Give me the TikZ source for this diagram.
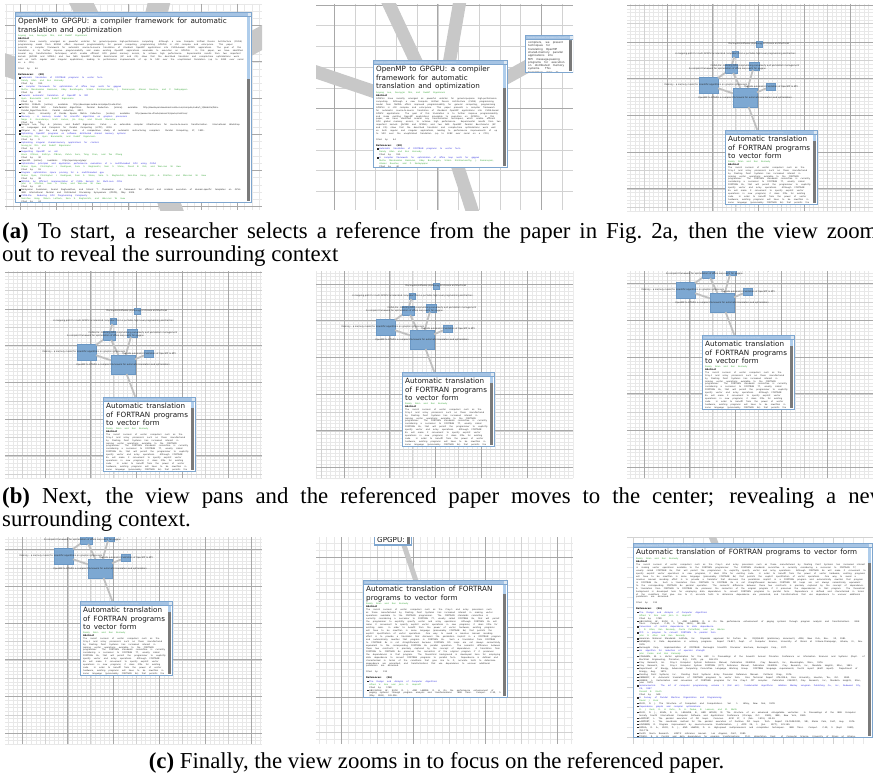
\documentclass[tikz,border=0pt]{standalone}
\usepackage{fontspec}
\setmainfont{Liberation Serif}
\newfontfamily\cardfont{DejaVu Sans}
\setlength{\parindent}{0pt}

\definecolor{nodeblue}{HTML}{7DA8D2}
\definecolor{nodeline}{HTML}{6A97C4}
\definecolor{cardframe}{HTML}{7EA6CF}
\definecolor{titlebar}{HTML}{A6C4E4}
\definecolor{bandgray}{HTML}{C8C8C8}
\definecolor{edgegray}{HTML}{C0C0C0}
\definecolor{gminorc}{HTML}{E8E8E8}
\definecolor{gmidc}{HTML}{D2D2D2}
\definecolor{gmajorc}{HTML}{A8A8A8}
\definecolor{authgreen}{HTML}{3AA83A}
\definecolor{linkblue}{HTML}{3030E0}
\definecolor{bodygray}{HTML}{2E2E2E}
\definecolor{titlecol}{HTML}{1A1A1A}
\definecolor{scrolldark}{HTML}{7A7A7A}
\definecolor{scrolllight}{HTML}{AFCDEB}

\tikzset{
  gminor/.style={draw=gminorc, line width=0.35pt},
  gmid/.style={draw=gmidc, line width=0.45pt},
  gmajor/.style={draw=gmajorc, line width=0.65pt},
  gnode/.style={draw=nodeline, fill=nodeblue, line width=0.4pt, inner sep=0pt, outer sep=0pt},
  glabel/.style={font={\cardfont\fontsize{2.2}{2.5}\selectfont}, text=black!85, inner sep=0pt},
  gedge/.style={draw=edgegray, line width=1.8pt},
  band/.style={draw=bandgray},
  capt/.style={inner sep=0pt, font={\fontsize{22.8}{23.3}\selectfont}},
}

% ---------- text styles inside cards ----------
\newcommand\ttl{\fontsize{7.2}{8.4}\selectfont\color{titlecol}\raggedright\hyphenpenalty=10000 }
\newcommand\au{\fontsize{2.1}{2.95}\selectfont\color{authgreen}}
\newcommand\hd{\fontsize{2.3}{3.1}\selectfont\bfseries\color{black}}
\newcommand\bd{\fontsize{2.1}{2.95}\selectfont\color{bodygray}}
\newcommand\bul{\rule[0.2pt]{1.3pt}{1.3pt}\hspace{0.9pt}}
\newcommand\rl[3]{\par\noindent\llap{\color{black!85}\bul}{\color{linkblue}#1}\par{\color{authgreen}#2}\par{\color{black!85}#3}\par}
\newcommand\rln[2]{\par\noindent\llap{\color{black!85}\bul}{\color{linkblue}#1}\par{\color{authgreen}#2}\par}
\newcommand\rp[1]{\par\noindent\llap{\color{black!85}\bul}{\color{black!85}#1}\par}

\newcommand\absOMP{GPGPUs have recently emerged as powerful vehicles for general-purpose high-performance computing. Although a new Compute Unified Device Architecture (CUDA) programming model from NVIDIA offers improved programmability for general computing, programming GPGPUs is still complex and error-prone. This paper presents a compiler framework for automatic source-to-source translation of standard OpenMP applications into CUDA-based GPGPU applications. The goal of this translation is to further improve programmability and make existing OpenMP applications amenable to execution on GPGPUs. In this paper, we have identified several key transformation techniques, which enable efficient GPU global memory access, to achieve high performance. Experimental results from two important kernels (JACOBI and SPMUL) and two NAS OpenMP Parallel Benchmarks (EP and CG) show that the described translator and compile-time optimizations work well on both regular and irregular applications, leading to performance improvements of up to 50X over the unoptimized translation (up to 328X over serial on a CPU).}

\newcommand\absFOR{The recent success of vector computers such as the Cray-1 and array processors such as those manufactured by Floating Point Systems has increased interest in making vector operations available to the FORTRAN programmer. The FORTRAN standards committee is currently considering a successor to FORTRAN 77, usually called FORTRAN 8x, that will permit the programmer to explicitly specify vector and array operations. Although FORTRAN 8x will make it convenient to specify explicit vector operations in new programs, it does little for existing code. In order to benefit from the power of vector hardware, existing programs will have to be rewritten in some language (presumably FORTRAN 8x) that permits the explicit specification of vector operations. One way to avoid a massive manual recoding effort is to provide a translator that discovers the parallelism implicit in a FORTRAN program and automatically rewrites that program in FORTRAN 8x. Such a translation from FORTRAN to FORTRAN 8x is not straightforward because FORTRAN DO loops are not always semantically equivalent to the corresponding FORTRAN 8x parallel operation. The semantic difference between these two constructs is precisely captured by the concept of dependence. A translation from FORTRAN to FORTRAN 8x preserves the semantics of the original program if it preserves the dependences in that program. The theoretical background is developed here for employing data dependence to convert FORTRAN programs to parallel form. Dependence is defined and characterized in terms of the conditions that give rise to it; accurate tests to determine dependence are presented; and transformations that use dependence to uncover additional parallelism are discussed.}

\newcommand\absMPI{compilers, we present techniques for translating OpenMP shared-memory parallel applications into MPI message-passing programs for execution on distributed memory systems. This translation aims to extend the ease of creating OpenMP programs to distributed memory systems, which are among the most cost-effective parallel platforms. In comparison to previous approaches, the direct translation to MPI performs better.}

\newcommand\refsOMP{%
\rl{Automatic translation of FORTRAN programs to vector form}{Randy Allen and Ken Kennedy}{Cited by: 195}
\rl{A compiler framework for optimization of affine loop nests for gpgpus}{Muthu Manikandan Baskaran, Uday Bondhugula, Sriram Krishnamoorthy, J. Ramanujam, Atanas Rountev, and P. Sadayappan}{Cited by: 40}
\rl{Towards automatic translation of OpenMP to MPI}{Ayon Basumallik and Rudolf Eigenmann}{Cited by: 16}
\rp{NVIDIA CUBLAS. [online]. available: http://developer.nvidia.com/object/cuda.html.}
\rp{NVIDIA CUDA SDK - Data-Parallel Algorithms: Parallel Reduction. [online]. available: http://developer.download.nvidia.com/compute/cuda/1\_1/Website/Data-Parallel\_Algorithms.html. Parallel reduction, 2007.}
\rp{Tim Davis. University of Florida Sparse Matrix Collection. [online]. available: http://www.cise.ufl.edu/research/sparse/matrices/.}
\rl{Memory - A memory model for scientific algorithms on graphics processors}{Naga K. Govindaraju, Scott Larsen, Jim Gray, and Dinesh Manocha}{Cited by: 54}
\rp{Sang-Ik Lee, Troy A. Johnson, and Rudolf Eigenmann. Cetus - an extensible compiler infrastructure for source-to-source transformation. International Workshop on Languages and Compilers for Parallel Computing (LCPC), 2003.}
\rp{Zhiyuan Li, Jian Gu, and Gyungho Lee. A comparative study of automatic restructuring compilers. Parallel Computing, 17, 1991.}
\rl{Optimizing OpenMP programs on software distributed shared memory systems}{Seung-Jai Min, Ayon Basumallik, and Rudolf Eigenmann}{Cited by: 9}
\rl{Optimizing irregular shared-memory applications for clusters}{Seung-Jai Min and Rudolf Eigenmann}{Cited by: 2}
\rl{Supporting OpenMP on cell}{Kevin O'Brien, Kathryn O'Brien, Zehra Sura, Tong Chen, and Tao Zhang}{Cited by: 30}
\rp{OpenMP. [online]. available: http://openmp.org/wp/.}
\rl{Optimization principles and application performance evaluation of a multithreaded GPU using CUDA}{Shane Ryoo, Christopher I. Rodrigues, Sara S. Baghsorkhi, Sam S. Stone, David B. Kirk, and Wen-mei W. Hwu}{Cited by: 91}
\rl{Program optimization space pruning for a multithreaded gpu}{Shane Ryoo, Christopher I. Rodrigues, Sam S. Stone, Sara S. Baghsorkhi, Sain-Zee Ueng, John A. Stratton, and Wen-mei W. Hwu}{Cited by: 38}
\rl{MCUDA: An Efficient Implementation of CUDA Kernels for Multi-core CPUs}{John A. Stratton, Sam S. Stone, and Wen-mei W. Hwu}{Cited by: 47}
\rp{Narayanan Sundaram, Anand Raghunathan, and Srimat T. Chakradhar. A framework for efficient and scalable execution of domain-specific templates on GPUs. IEEE International Parallel and Distributed Processing Symposium (IPDPS), May 2009.}
\rl{CUDA-lite: Reducing GPU Programming Complexity}{Sain-Zee Ueng, Melvin Lathara, Sara S. Baghsorkhi, and Wen-mei W. Hwu}{Cited by: 24}
\rp{Seyong Lee and Rudolf Eigenmann. OpenMPC: Extended OpenMP programming and tuning for GPUs.}
}

\newcommand\refsFOR{%
\rl{The Design and Analysis of Computer Algorithms}{Alfred V. Aho and John E. Hopcroft}{Cited by: 1780}
\rp{ABU-SUFAH, W., KUCK, D. J., AND LAWRIE, D. H. On the performance enhancement of paging systems through program analysis and transformations. IEEE Trans. Comput. C-30, 5 (May 1981), 341-356.}
\rln{Conversion of control dependence to data dependence}{J. R. Allen, Ken Kennedy, Carrie Porterfield, and Joe Warren}
\rln{PFC: a program to convert FORTRAN to parallel form}{John R. Allen and Ken Kennedy}
\rp{American National Standards Institute, Inc. Proposals approved for Fortran 8x. X3J3/S6.80 (preliminary document), ANSI, New York, Nov. 30, 1981.}
\rp{BANERJEE, U. Data dependence in ordinary programs. Report 76-837, Dept. of Computer Science, University of Illinois at Urbana-Champaign, Urbana, Ill., Nov. 1976.}
\rp{Burroughs Corp. Implementation of FORTRAN. Burroughs Scientific Processor brochure, Burroughs Corp., 1977.}
\rln{An algorithm for reduction of operator strength}{John Cocke and Ken Kennedy}
\rp{COHAGEN, W. L. Vector optimization for the ASC. In Proceedings of the Seventh Annual Princeton Conference on Information Sciences and Systems (Dept. of Electrical Engineering, Princeton, N.J.), 1973, pp. 169-174.}
\rp{Cray Research, Inc. Cray-1 Computer System Reference Manual, Publication 2240004. Cray Research, Inc., Bloomington, Minn., 1976.}
\rp{Cray Research, Inc. Cray-1 Computer System FORTRAN (CFT) Reference Manual, Publication 2240009. Cray Research, Inc., Mendota Heights, Minn., 1981.}
\rp{Department of Energy, Advanced Computing Committee Language Working Group. FORTRAN language requirements, fourth report (draft report). Department of Energy, Aug. 1979.}
\rp{Floating Point Systems, Inc. Floating Point Systems Array Processor Reference Manual. Portland, Oreg., 1976.}
\rp{KENNEDY, K. Automatic translation of FORTRAN programs to vector form. Rice Technical Report 476-029-4, Rice University, Houston, Tex., Oct. 1980.}
\rp{HIGBEE, L. Vectorization and conversion of FORTRAN programs for the Cray-1 CFT compiler. Publication 2240207, Cray Research, Inc., Mendota Heights, Minn., June 1979.}
\rl{Seminumerical: The art of computer programming, volume 1 (3rd ed.): fundamental algorithms. Addison Wesley Longman Publishing Co., Inc., Redwood City, CA, 1997}{Donald E. Knuth}{Cited by: 949}
\rln{A Survey of Parallel Machine Organization and Programming}{David J. Kuck}
\rp{KUCK, D. J. The Structure of Computers and Computations. Vol. 1. Wiley, New York, 1978.}
\rln{Dependence graphs and compiler optimizations}{D. J. Kuck, R. H. Kuhn, D. A. Padua, B. Leasure, and M. Wolfe}
\rp{KUCK, D. J., KUHN, R. H., LEASURE, B., AND WOLFE, M. The structure of an advanced retargetable vectorizer. In Proceedings of the IEEE Computer Society Fourth International Computer Software and Applications Conference (Chicago, Oct. 1980), IEEE, New York, 1980.}
\rp{LAMPORT, L. The parallel execution of DO loops. Commun. ACM 17, 2 (Feb. 1974), 83-93.}
\rp{LAMPORT, L. The coordinate method for the parallel execution of iterative DO loops. Tech. Report CA-7608-0221, SRI, Menlo Park, Calif., Aug. 1976.}
\rp{LOVEMAN, D. Program improvement by source-to-source transformation. J. ACM 24, 1 (Jan. 1977), 121-145.}
\rp{PADUA, D. A., KUCK, D. J., AND LAWRIE, D. H. High-speed multiprocessors and compilation techniques. IEEE Trans. Comput. C-29, 9 (Sept. 1980), 763-776.}
\rp{Pacific Sierra Research. VAST-2 reference manual. Los Angeles, Calif., 1980.}
\rp{TOWLE, R. A. Control and data dependence for program transformations. Ph.D. dissertation, Dept. of Computer Science, University of Illinois at Urbana-Champaign, 1976.}
\rp{WOLFE, M. Optimizing supercompilers for supercomputers. Ph.D. dissertation, University of Illinois at Urbana-Champaign, 1982.}
\rp{WOLFE, M. Advanced loop interchanging. In Proceedings of the 1986 International Conference on Parallel Processing, IEEE, New York, 1986.}
\rp{ZIMA, H. P. Supercompilers for parallel and vector computers. ACM Press, New York, 1990.}
}

\newcommand\contentOMP{%
{\ttl OpenMP to GPGPU: a compiler framework for automatic translation and optimization\par}%
\vspace{0.4pt}%
{\au Seyong Lee, Seung-Jai Min, and Rudolf Eigenmann\par}%
{\hd Abstract\par}%
{\bd \absOMP\par}%
\vspace{2.6pt}%
{\bd Cited by: 44\par}%
\vspace{3pt}%
{\hd References: (38)\par}%
\vspace{0.6pt}%
{\bd\leftskip=3.2pt \refsOMP\par}}

\newcommand\contentFOR{%
{\ttl Automatic translation of FORTRAN programs to vector form\par}%
\vspace{0.4pt}%
{\au Randy Allen and Ken Kennedy\par}%
{\hd Abstract\par}%
{\bd \absFOR\par}%
\vspace{2.6pt}%
{\bd Cited by: 195\par}%
\vspace{3pt}%
{\hd References: (36)\par}%
\vspace{0.6pt}%
{\bd\leftskip=3.2pt \refsFOR\par}}

% ---------- card ----------
% #1 x, #2 y, #3 w, #4 h, #5 light part of scrollbar, #6 content, #7 title bar text
\newcommand\papercard[7]{%
  \fill[cardframe] (#1,#2) rectangle ++(#3,#4);
  \fill[titlebar] ({#1+0.8},{#2+0.8}) rectangle ({#1+#3-0.8},{#2+4.3});
  \fill[white] ({#1+1.3},{#2+4.8}) rectangle ({#1+#3-1.3},{#2+#4-1.3});
  \fill[scrolldark] ({#1+#3-5.3},{#2+4.8}) rectangle ({#1+#3-1.6},{#2+#4-1.6});
  \fill[scrolllight] ({#1+#3-5.3},{#2+4.8}) rectangle ({#1+#3-1.6},{#2+4.8+#5});
  \node[anchor=west, inner sep=0pt, text=white!70!cardframe, font={\cardfont\fontsize{1.9}{2}\selectfont}] (cardbar) at ({#1+2.2},{#2+2.6}) {#7};
  \fill[white!75!cardframe] ({#1+#3-3.6},{#2+1.3}) rectangle ({#1+#3-1.3},{#2+3.8});
  \begin{scope}
    \clip ({#1+1.3},{#2+4.8}) rectangle ({#1+#3-5.6},{#2+#4-1.3});
    \pgfmathsetlengthmacro\cardtw{(#3-10.5)*1pt}%
    \node[anchor=north west, inner sep=0pt, text width=\cardtw, font=\cardfont] (cardtext) at ({#1+3},{#2+6.3}) {#6};
  \end{scope}}

% ---------- grid ----------
% #1 x0 #2 y0 #3 x1 #4 y1 #5 ox #6 oy #7 dx #8 dy #9 style
\newcommand\gridlines[9]{%
  \pgfmathtruncatemacro\gka{floor(((#1)-(#5))/(#7))}%
  \pgfmathtruncatemacro\gkb{ceil(((#3)-(#5))/(#7))}%
  \foreach \k in {\gka,...,\gkb}{\draw[#9] ({#5+\k*#7},#2) -- ({#5+\k*#7},#4);}%
  \pgfmathtruncatemacro\gka{floor(((#2)-(#6))/(#8))}%
  \pgfmathtruncatemacro\gkb{ceil(((#4)-(#6))/(#8))}%
  \foreach \k in {\gka,...,\gkb}{\draw[#9] (#1,{#6+\k*#8}) -- (#3,{#6+\k*#8});}%
}

% ---------- the graph scene (coordinates of panel a3) ----------
\newcommand\graphscene{%
  \papercard{98}{126}{93}{75}{6}{\contentFOR}{Automatic translation of FORTRAN programs to vector form}
  \node[inner sep=0pt, minimum width=93pt, minimum height=75pt] (CF) at (144.5,163.5) {};
  \node[gnode, minimum width=24pt, minimum height=19pt] (N0) at (118,93.5) {};
  \node[gnode, minimum width=19pt, minimum height=16pt] (N1) at (81.5,81) {};
  \node[gnode, minimum width=12pt, minimum height=9pt] (N2) at (104,64.5) {};
  \node[gnode, minimum width=10pt, minimum height=8pt] (N3) at (127,62) {};
  \node[gnode, minimum width=9pt, minimum height=7pt] (N4) at (143.5,82.5) {};
  \node[gnode, minimum width=6pt, minimum height=6pt] (N5) at (108,50) {};
  \node[gnode, minimum width=6pt, minimum height=6pt] (N6) at (132,40) {};
  \draw[gedge] (N0) -- (N1);
  \draw[gedge] (N1) -- (N2);
  \draw[gedge] (N2) -- (N0);
  \draw[gedge] (N3) -- (N0);
  \draw[gedge] (N4) -- (N0);
  \draw[gedge] (N5) -- (N2);
  \draw[gedge] (N0) -- (CF);
  \node[glabel] (L6) at (132,40) {Decoupled software pipelining for stream architectures};
  \node[glabel] (L5) at (108.5,49.5) {A mapping path for multi-GPGPU accelerated computers from a portable high level programming abstraction};
  \node[glabel] (L3) at (128,62) {CUDA-lite: reducing GPU programming complexity and parallelism management};
  \node[glabel] (L2) at (100.5,65.3) {A compiler framework for optimization of affine loop nests for gpgpus};
  \node[glabel] (L1) at (79,81) {Memory - a memory model for scientific algorithms on graphics processors};
  \node[glabel] (L4) at (144,83) {Towards automatic translation of OpenMP to MPI};
  \node[glabel] (L0) at (118,94) {OpenMP to GPGPU: a compiler framework for automatic translation and optimization};
}

% #1 #2 panel top-left (absolute), #3 #4 absolute position of the scene origin
\newcommand\scenepanel[4]{%
  \begin{scope}
    \clip (#1,#2) rectangle ++(257,207);
    \begin{scope}[shift={(#3,#4)}]
      \pgfmathsetmacro\sxa{(#1)-(#3)}\pgfmathsetmacro\sya{(#2)-(#4)}%
      \pgfmathsetmacro\sxb{\sxa+257}\pgfmathsetmacro\syb{\sya+207}%
      \gridlines{\sxa}{\sya}{\sxb}{\syb}{40}{38}{4.58}{3.67}{gminor}
      \gridlines{\sxa}{\sya}{\sxb}{\syb}{40}{38}{22.9}{18.35}{gmid}
      \gridlines{\sxa}{\sya}{\sxb}{\syb}{40}{38}{45.8}{36.7}{gmajor}
      \graphscene
    \end{scope}
  \end{scope}}

\begin{document}
\begin{tikzpicture}[x=1pt,y=-1pt]
\useasboundingbox (0,0) rectangle (873,776);
\fill[white] (0,0) rectangle (873,776);

% ================= panel a1 =================
\begin{scope}
  \clip (5,4) rectangle (262,210);
  \gridlines{5}{4}{262}{210}{128.8}{97.9}{7.24}{7.24}{gminor}
  \gridlines{5}{4}{262}{210}{128.8}{97.9}{36.2}{36.2}{gmajor}
  \node[inner sep=0pt, minimum width=237pt, minimum height=191pt] (A1card) at (133.5,107.5) {};
  \coordinate (a1e1) at (30,-100);
  \coordinate (a1e2) at (184,-100);
  \coordinate (a1e3) at (-115,25);
  \coordinate (a1e4) at (390,-32);
  \coordinate (a1e5) at (212,318);
  \foreach \e in {a1e1,a1e2,a1e3,a1e4,a1e5}{\draw[band, line width=22pt] (A1card.center) -- (\e);}
  \papercard{15}{12}{237}{191}{62}{\contentOMP}{OpenMP to GPGPU: a compiler framework for automatic translation and optimization}
\end{scope}

% ================= panel a2 =================
\begin{scope}
  \clip (316,4) rectangle (573,210);
  \gridlines{316}{4}{573}{210}{334.3}{5}{20.7}{20.7}{gmid}
  \gridlines{316}{4}{573}{210}{334.3}{5}{103.5}{103.5}{gmajor}
  \node[inner sep=0pt, minimum width=135pt, minimum height=108pt] (A2card) at (440.5,114) {};
  \node[inner sep=0pt, minimum width=49pt, minimum height=38pt] (A2small) at (549.5,54) {};
  \coordinate (a2e1) at (338,-105);
  \coordinate (a2e2) at (478,-105);
  \coordinate (a2e3) at (192,30);
  \coordinate (a2e5) at (509,323);
  \foreach \e in {a2e1,a2e2,a2e3,a2e5}{\draw[band, line width=13pt] (A2card.center) -- (\e);}
  \draw[band, line width=13pt] (A2card.center) -- (A2small.center);
  \papercard{373}{60}{135}{108}{23}{\contentOMP}{OpenMP to GPGPU: a compiler framework for automatic translation and optimization}
  \papercard{525}{35}{49}{38}{0}{{\fontsize{2.7}{3.3}\selectfont\color{bodygray}\absMPI\par}}{Towards automatic translation of OpenMP to MPI}
\end{scope}

% ================= panels with the graph =================
\scenepanel{627}{4}{627}{4}
\scenepanel{5}{271}{5}{271}
\scenepanel{316}{271}{304}{246}
\scenepanel{627}{271}{604}{209}
\scenepanel{5}{537}{-18}{475}

% ================= panel c2 =================
\begin{scope}
  \clip (316,537) rectangle (573,744);
  \gridlines{316}{537}{573}{744}{413}{557}{7.2}{7.0}{gminor}
  \gridlines{316}{537}{573}{744}{413}{557}{36}{35}{gmid}
  \gridlines{316}{537}{573}{744}{413}{557}{72}{70}{gmajor}
  \node[inner sep=0pt, minimum width=38pt, minimum height=65pt] (C2omp) at (393,512.5) {};
  \node[inner sep=0pt, minimum width=145pt, minimum height=118pt] (C2card) at (435.5,639) {};
  \draw[band, line width=5pt] (C2omp.center) -- (C2card.center);
  \fill[cardframe] (374,480) rectangle (412,545.5);
  \fill[white] (375.3,480) rectangle (410.7,544.2);
  \fill[scrolldark] (407,480) rectangle (410.4,543.9);
  \node[anchor=base west, inner sep=0pt, font={\cardfont\fontsize{7.2}{8.4}\selectfont}, text=titlecol] (C2gp) at (377,542.6) {GPGPU:};
  \papercard{363}{580}{145}{118}{9}{\contentFOR}{Automatic translation of FORTRAN programs to vector form}
\end{scope}

% ================= panel c3 =================
\begin{scope}
  \clip (627,537) rectangle (873,744);
  \gridlines{627}{537}{873}{744}{633}{537}{10}{10}{gminor}
  \gridlines{627}{537}{873}{744}{633}{537}{50}{50}{gmid}
  \node[inner sep=0pt, minimum width=240pt, minimum height=195pt] (C3card) at (753,640.5) {};
  \coordinate (c3e) at (690,480);
  \draw[band, line width=7pt] (C3card.center) -- (c3e);
  \papercard{633}{543}{240}{195}{15}{\contentFOR}{Automatic translation of FORTRAN programs to vector form}
\end{scope}

% ================= captions =================
\node[capt, anchor=base west] (capA) at (2,238) {\parbox[t]{884pt}{\tolerance=10000 \textbf{(a)} To start, a researcher selects a reference from the paper in Fig.~2a, then the view zooms\linebreak out to reveal the surrounding context}};
\node[capt, anchor=base west] (capB) at (2,503) {\parbox[t]{884pt}{\tolerance=10000 \textbf{(b)} Next, the view pans and the referenced paper moves to the center; revealing a new\linebreak surrounding context.}};
\node[capt, anchor=base] (capC) at (436.5,768) {\textbf{(c)} Finally, the view zooms in to focus on the referenced paper.};
\end{tikzpicture}
\end{document}
